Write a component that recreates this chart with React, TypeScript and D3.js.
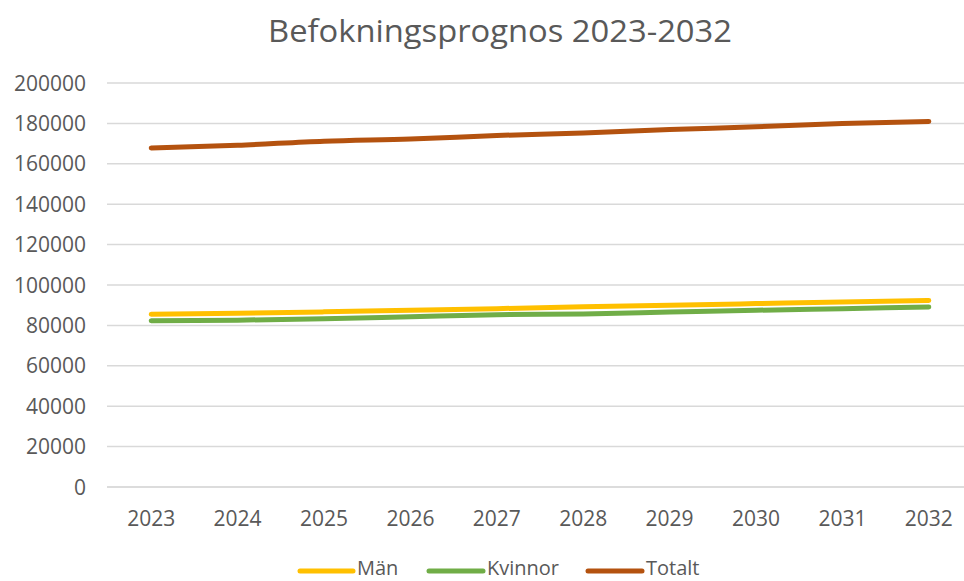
import React from "react";
import * as d3 from "d3";

const years = ["2023", "2024", "2025", "2026", "2027", "2028", "2029", "2030", "2031", "2032"];
const man = [85500, 86000, 86700, 87500, 88300, 89200, 90000, 90800, 91600, 92300];
const kvinnor = [82300, 82600, 83300, 84300, 85300, 85700, 86600, 87500, 88300, 89100];
const totalt = [167800, 169200, 171200, 172300, 174000, 175300, 177000, 178300, 180000, 181000];
const yTicks = [0, 20000, 40000, 60000, 80000, 100000, 120000, 140000, 160000, 180000, 200000];

const series = [
  { name: "Män", values: man, color: "#FFC000" },
  { name: "Kvinnor", values: kvinnor, color: "#70AD47" },
  { name: "Totalt", values: totalt, color: "#B4520F" },
];

const W = 964;
const H = 581;
const FONT = "'Open Sans', 'Noto Sans', sans-serif";
const TEXT = "#595959";

export default function App() {
  const x = d3.scaleBand<string>().domain(years).range([108, 972]);
  const y = d3.scaleLinear().domain([0, 200000]).range([487, 83]);
  const line = d3
    .line<number>()
    .x((_, i) => (x(years[i]) as number) + x.bandwidth() / 2)
    .y((v) => y(v))
    .curve(d3.curveMonotoneX);

  const legendItems = [
    { x0: 300, x1: 353, tx: 357 },
    { x0: 429, x1: 483, tx: 487 },
    { x0: 588, x1: 642, tx: 646 },
  ];

  return (
    <svg
      width={W}
      height={H}
      style={{ position: "absolute", left: 0, top: 0, display: "block", background: "#fff" }}
    >
      <text
        x={500}
        y={42}
        textAnchor="middle"
        fontFamily={FONT}
        fontSize={31}
        textLength={464}
        lengthAdjust="spacingAndGlyphs"
        fill={TEXT}
      >
        Befokningsprognos 2023-2032
      </text>
      {yTicks.map((t) => (
        <g key={t}>
          <line x1={107} x2={W} y1={y(t)} y2={y(t)} stroke={t === 0 ? "#d0d0d0" : "#d9d9d9"} strokeWidth={1.5} />
          <text
            x={86}
            y={y(t)}
            dy="0.36em"
            textAnchor="end"
            fontFamily={FONT}
            fontSize={21}
            fill={TEXT}
          >
            {t}
          </text>
        </g>
      ))}
      {years.map((yr) => (
        <text
          key={yr}
          x={(x(yr) as number) + x.bandwidth() / 2}
          y={518}
          dy="0.36em"
          textAnchor="middle"
          fontFamily={FONT}
          fontSize={21}
          fill={TEXT}
        >
          {yr}
        </text>
      ))}
      {series.map((s) => (
        <path
          key={s.name}
          d={line(s.values) || ""}
          fill="none"
          stroke={s.color}
          strokeWidth={5}
          strokeLinecap="round"
          strokeLinejoin="round"
        />
      ))}
      {series.map((s, i) => (
        <g key={s.name}>
          <line
            x1={legendItems[i].x0}
            x2={legendItems[i].x1}
            y1={571}
            y2={571}
            stroke={s.color}
            strokeWidth={5}
            strokeLinecap="round"
          />
          <text
            x={legendItems[i].tx}
            y={575}
            fontFamily={FONT}
            fontSize={20}
            fill={TEXT}
          >
            {s.name}
          </text>
        </g>
      ))}
    </svg>
  );
}
